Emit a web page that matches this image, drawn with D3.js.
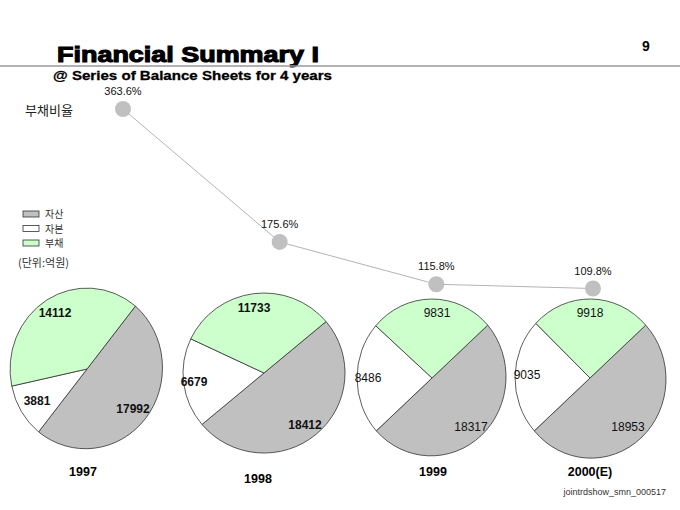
<!DOCTYPE html>
<html><head><meta charset="utf-8">
<script src="https://cdn.jsdelivr.net/npm/d3@7"></script>
<style>
html,body{margin:0;padding:0;background:#fff;}
text{font-family:"Liberation Sans",Arial,sans-serif;}
.kr{font-family:"Noto Sans CJK KR","Liberation Sans",sans-serif;}
</style></head>
<body><svg id="c" width="680" height="510"></svg>
<script>
const years = ["1997","1998","1999","2000(E)"];
const assets = [17992,18412,18317,18953];
const equity = [3881,6679,8486,9035];
const debt = [14112,11733,9831,9918];
const debtRatio = [363.6,175.6,115.8,109.8];
const seriesNames = ["자산","자본","부채"];

const svg = d3.select("#c");
const colors = ["#c0c0c0","#ffffff","#ccffcc"];

// Title
svg.append("text").attr("x",57).attr("y",62).attr("font-size",22).attr("font-weight","bold")
  .attr("stroke","#000").attr("stroke-width",1.1).attr("textLength",262).attr("lengthAdjust","spacingAndGlyphs")
  .text("Financial Summary I");
svg.append("line").attr("x1",0).attr("x2",680).attr("y1",66).attr("y2",66).attr("stroke","#999").attr("stroke-width",1.5);
svg.append("text").attr("x",53).attr("y",80).attr("font-size",13).attr("font-weight","bold")
  .attr("stroke","#000").attr("stroke-width",0.3).attr("textLength",279).attr("lengthAdjust","spacingAndGlyphs")
  .text("@ Series of Balance Sheets for 4 years");
svg.append("text").attr("x",646).attr("y",51).attr("font-size",14).attr("font-weight","bold").attr("text-anchor","middle").text("9");

svg.append("text").attr("class","kr").attr("x",25).attr("y",115).attr("font-size",13).attr("fill","#222").text("부채비율");

// Line of debt ratio
const x = d3.scalePoint().domain(years).range([123,593]);
const y = d3.scaleLinear().domain([109.8,363.6]).range([288.5,109]);
const line = d3.line().x((d,i)=>x(years[i])).y(d=>y(d));
svg.append("path").datum(debtRatio).attr("d",line).attr("fill","none").attr("stroke","#b4b4b4").attr("stroke-width",1);
svg.selectAll(".dot").data(debtRatio).join("circle").attr("cx",(d,i)=>x(years[i])).attr("cy",d=>y(d)).attr("r",8).attr("fill","#c0c0c0");
svg.selectAll(".dl").data(debtRatio).join("text").attr("x",(d,i)=>x(years[i])).attr("y",d=>y(d)-14)
  .attr("text-anchor","middle").attr("font-size",11).attr("fill","#111").text(d=>d.toFixed(1)+"%");

// Legend
seriesNames.forEach((n,i)=>{
  svg.append("rect").attr("x",23).attr("y",211+i*14.5).attr("width",16).attr("height",6).attr("fill",colors[i]).attr("stroke","#333").attr("stroke-width",0.8);
  svg.append("text").attr("class","kr").attr("x",45).attr("y",218+i*14.5).attr("font-size",10).attr("fill","#333").text(n);
});
svg.append("text").attr("class","kr").attr("x",18).attr("y",267).attr("font-size",11).attr("fill","#333").text("(단위:억원)");

// Pies
const pieLayout = [
  {cx:87, cy:369, rx:77, ry:81, start:39, bold:true, lab:[[133,413],[37,405],[55,317]], yl:[83,476]},
  {cx:264,cy:373, rx:81, ry:80, start:50, bold:true, lab:[[305,429],[194,386],[254,312]], yl:[258,483]},
  {cx:432,cy:378, rx:75, ry:79, start:48, bold:false, lab:[[471,431],[368,382],[437,317]], yl:[433,476]},
  {cx:590,cy:378, rx:75, ry:79, start:48, bold:false, lab:[[628,431],[527,379],[590,317]], yl:[590,476]}
];
const arc = d3.arc().innerRadius(0).outerRadius(1);
years.forEach((yr,k)=>{
  const L = pieLayout[k];
  const vals = [assets[k],equity[k],debt[k]];
  const pie = d3.pie().sort(null).startAngle(L.start*Math.PI/180).endAngle(L.start*Math.PI/180+2*Math.PI);
  const g = svg.append("g").attr("transform",`translate(${L.cx},${L.cy}) scale(${L.rx},${L.ry})`);
  g.selectAll("path").data(pie(vals)).join("path").attr("d",arc)
    .attr("fill",(d,i)=>colors[i]).attr("stroke","#333").attr("stroke-width",0.8).attr("vector-effect","non-scaling-stroke");
  vals.forEach((v,i)=>{
    svg.append("text").attr("x",L.lab[i][0]).attr("y",L.lab[i][1]).attr("text-anchor","middle")
      .attr("font-size",12).attr("font-weight",L.bold?"bold":"normal").attr("fill","#111").text(v);
  });
  svg.append("text").attr("x",L.yl[0]).attr("y",L.yl[1]).attr("text-anchor","middle").attr("font-size",12.5).attr("font-weight","bold").text(yr);
});

svg.append("text").attr("x",666).attr("y",495).attr("text-anchor","end").attr("font-size",9).attr("fill","#333").text("jointrdshow_smn_000517");
</script></body></html>
